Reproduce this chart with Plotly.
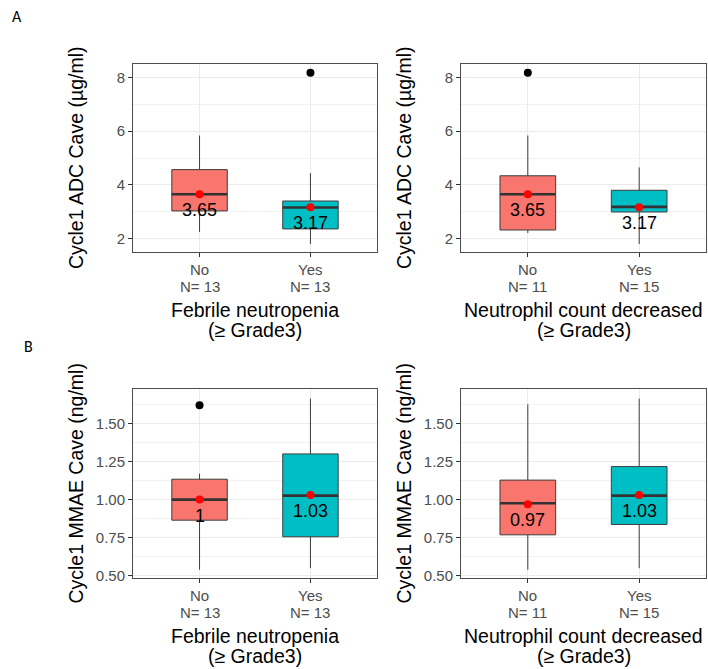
import plotly.graph_objects as go
from plotly.subplots import make_subplots

# ---- data -------------------------------------------------------------
groups = ["No", "Yes"]
group_pos = [1, 2]
fill_colors = ["#F8766D", "#00BFC4"]

n_febrile = [13, 13]
n_neutro = [11, 15]

# Cycle1 ADC Cave (µg/ml) by febrile neutropenia
adc_fn_low = [2.25, 1.80]
adc_fn_q1 = [3.03, 2.36]
adc_fn_med = [3.65, 3.16]
adc_fn_q3 = [4.57, 3.40]
adc_fn_high = [5.84, 4.44]
adc_fn_mean = [3.65, 3.17]
adc_fn_out = [[], [8.18]]

# Cycle1 ADC Cave (µg/ml) by neutrophil count decreased
adc_nc_low = [2.21, 1.80]
adc_nc_q1 = [2.32, 2.99]
adc_nc_med = [3.65, 3.18]
adc_nc_q3 = [4.34, 3.80]
adc_nc_high = [5.84, 4.65]
adc_nc_mean = [3.65, 3.17]
adc_nc_out = [[8.18], []]

# Cycle1 MMAE Cave (ng/ml) by febrile neutropenia
mmae_fn_low = [0.54, 0.55]
mmae_fn_q1 = [0.865, 0.756]
mmae_fn_med = [1.00, 1.026]
mmae_fn_q3 = [1.134, 1.30]
mmae_fn_high = [1.17, 1.663]
mmae_fn_mean = [1.00, 1.03]
mmae_fn_out = [[1.62], []]

# Cycle1 MMAE Cave (ng/ml) by neutrophil count decreased
mmae_nc_low = [0.54, 0.55]
mmae_nc_q1 = [0.769, 0.837]
mmae_nc_med = [0.976, 1.026]
mmae_nc_q3 = [1.128, 1.217]
mmae_nc_high = [1.626, 1.663]
mmae_nc_mean = [0.97, 1.03]
mmae_nc_out = [[], []]

adc_title = "Cycle1 ADC Cave (µg/ml)"
mmae_title = "Cycle1 MMAE Cave (ng/ml)"
fn_title = "Febrile neutropenia"
nc_title = "Neutrophil count decreased"
grade_line = "(≥ Grade3)"

# ---- layout geometry (pixels) -----------------------------------------
W, H = 708, 669
FONT = "Liberation Sans, Arial, Helvetica, sans-serif"
col_px = [(133, 377), (461, 706)]
row_px = [(65, 254), (393, 583)]


def px_x(px):
    return px / W


def px_y(py):
    return 1 - py / H


panels = [
    dict(row=1, col=1, low=adc_fn_low, q1=adc_fn_q1, med=adc_fn_med, q3=adc_fn_q3,
         high=adc_fn_high, mean=adc_fn_mean, out=adc_fn_out, n=n_febrile,
         ytitle=adc_title, xtitle=fn_title),
    dict(row=1, col=2, low=adc_nc_low, q1=adc_nc_q1, med=adc_nc_med, q3=adc_nc_q3,
         high=adc_nc_high, mean=adc_nc_mean, out=adc_nc_out, n=n_neutro,
         ytitle=adc_title, xtitle=nc_title),
    dict(row=2, col=1, low=mmae_fn_low, q1=mmae_fn_q1, med=mmae_fn_med, q3=mmae_fn_q3,
         high=mmae_fn_high, mean=mmae_fn_mean, out=mmae_fn_out, n=n_febrile,
         ytitle=mmae_title, xtitle=fn_title),
    dict(row=2, col=2, low=mmae_nc_low, q1=mmae_nc_q1, med=mmae_nc_med, q3=mmae_nc_q3,
         high=mmae_nc_high, mean=mmae_nc_mean, out=mmae_nc_out, n=n_neutro,
         ytitle=mmae_title, xtitle=nc_title),
]

fig = make_subplots(rows=2, cols=2)

BOX_W = 0.5
OUTLINE = "#3d3d3d"
TICK_GRAY = "#4D4D4D"


def fmt(v):
    return f"{round(v, 2):g}"


annotations = []
for p in panels:
    r, c = p["row"], p["col"]
    idx = (r - 1) * 2 + c
    sfx = "" if idx == 1 else str(idx)
    base = row_px[r - 1][1]
    for i, g in enumerate(groups):
        x0 = group_pos[i]
        fig.add_trace(go.Box(
            x=[x0], q1=[p["q1"][i]], median=[p["med"][i]], q3=[p["q3"][i]],
            lowerfence=[p["low"][i]], upperfence=[p["high"][i]],
            width=BOX_W, whiskerwidth=0, boxpoints=False,
            fillcolor=fill_colors[i], line=dict(color=OUTLINE, width=1),
            showlegend=False, hoverinfo="skip"), row=r, col=c)
        # thicker median bar
        fig.add_trace(go.Scatter(
            x=[x0 - BOX_W / 2, x0 + BOX_W / 2], y=[p["med"][i]] * 2,
            mode="lines", line=dict(color="#333333", width=2.6),
            showlegend=False, hoverinfo="skip"), row=r, col=c)
        if p["out"][i]:
            fig.add_trace(go.Scatter(
                x=[x0] * len(p["out"][i]), y=p["out"][i], mode="markers",
                marker=dict(color="black", size=8),
                showlegend=False, hoverinfo="skip"), row=r, col=c)
        # mean point with its value printed below it
        fig.add_trace(go.Scatter(
            x=[x0], y=[p["mean"][i]], mode="markers",
            marker=dict(color="#FF0000", size=8),
            showlegend=False, hoverinfo="skip"), row=r, col=c)
        annotations.append(dict(
            x=x0, y=p["mean"][i], xref="x" + sfx, yref="y" + sfx,
            text=fmt(p["mean"][i]), showarrow=False, yanchor="middle",
            yshift=-16, font=dict(family=FONT, size=18, color="black")))
        # category label: group name and count on two tight lines
        annotations.append(dict(
            x=x0, y=px_y(base + 18), xref="x" + sfx, yref="paper",
            text=g, showarrow=False, xanchor="center", yanchor="middle",
            font=dict(family=FONT, size=15, color=TICK_GRAY)))
        annotations.append(dict(
            x=x0, y=px_y(base + 35.5), xref="x" + sfx, yref="paper",
            text=f"N= {p['n'][i]}", showarrow=False, xanchor="center",
            yanchor="middle", font=dict(family=FONT, size=15, color=TICK_GRAY)))

    # axis titles
    cx = sum(col_px[c - 1]) / 2
    cy = sum(row_px[r - 1]) / 2
    ylab_x = col_px[c - 1][0] - 57
    annotations.append(dict(
        x=px_x(ylab_x), y=px_y(cy), xref="paper", yref="paper",
        text=p["ytitle"], textangle=-90, showarrow=False,
        xanchor="center", yanchor="middle",
        font=dict(family=FONT, size=19.5, color="black")))
    annotations.append(dict(
        x=px_x(cx), y=px_y(base + 58.5), xref="paper", yref="paper",
        text=p["xtitle"], showarrow=False, xanchor="center", yanchor="middle",
        font=dict(family=FONT, size=19.5, color="black")))
    annotations.append(dict(
        x=px_x(cx), y=px_y(base + 78.5), xref="paper", yref="paper",
        text=grade_line, showarrow=False, xanchor="center", yanchor="middle",
        font=dict(family=FONT, size=19.5, color="black")))

    fig.update_xaxes(
        domain=[px_x(col_px[c - 1][0]), px_x(col_px[c - 1][1])],
        range=[0.4, 2.6], tickmode="array", tickvals=group_pos,
        showticklabels=False,
        showgrid=True, gridcolor="#EBEBEB", gridwidth=1.2, zeroline=False,
        showline=True, mirror=True, linecolor="#4d4d4d", linewidth=1,
        ticks="outside", ticklen=4, tickcolor="#333333", tickwidth=1,
        row=r, col=c)
    if r == 1:
        yrng, dt, mdt, tf = [1.51, 8.49], 2, 1, "d"
    else:
        yrng, dt, mdt, tf = [0.487, 1.723], 0.25, 0.125, ".2f"
    fig.update_yaxes(
        domain=[px_y(row_px[r - 1][1]), px_y(row_px[r - 1][0])],
        range=yrng, tick0=0, dtick=dt, tickformat=tf,
        showgrid=True, gridcolor="#EBEBEB", gridwidth=1.2, zeroline=False,
        minor=dict(tick0=0, dtick=mdt, showgrid=True, gridcolor="#F2F2F2",
                   gridwidth=0.7, ticks=""),
        showline=True, mirror=True, linecolor="#4d4d4d", linewidth=1,
        ticks="outside", ticklen=4, tickcolor="#333333", tickwidth=1,
        tickfont=dict(family=FONT, size=15, color=TICK_GRAY),
        row=r, col=c)

# panel letters
annotations.append(dict(x=px_x(17), y=px_y(17), xref="paper", yref="paper",
                        text="A", showarrow=False, xanchor="center", yanchor="middle",
                        font=dict(family="Carlito, Liberation Sans, sans-serif", size=16,
                                  color="black")))
annotations.append(dict(x=px_x(29), y=px_y(350), xref="paper", yref="paper",
                        text="B", showarrow=False, xanchor="center", yanchor="middle",
                        font=dict(family="Carlito, Liberation Sans, sans-serif", size=16,
                                  color="black")))

fig.update_layout(
    width=W, height=H, margin=dict(l=0, r=0, t=0, b=0),
    paper_bgcolor="white", plot_bgcolor="white",
    annotations=annotations, showlegend=False,
    font=dict(family=FONT),
)

fig.write_html("out.html")
